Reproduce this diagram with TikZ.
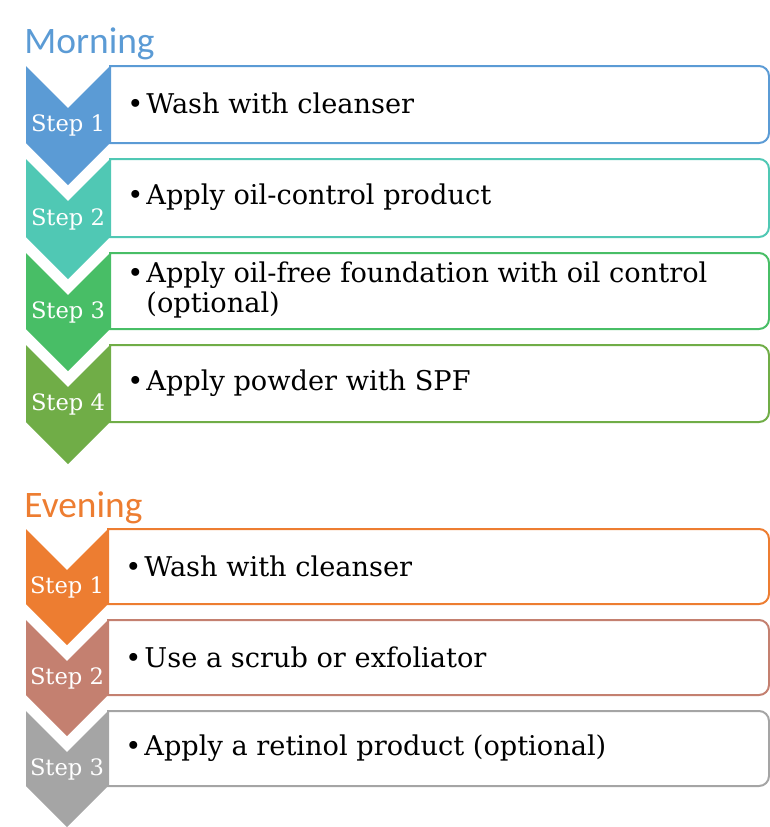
\documentclass[tikz,border=0pt]{standalone}
\usepackage{fontspec}
\setmainfont{DejaVu Serif}
\newfontfamily\headfont{Carlito}
\definecolor{mornblue}{RGB}{91,155,213}
\definecolor{mornteal}{RGB}{80,200,180}
\definecolor{morngreen}{RGB}{72,190,102}
\definecolor{mornolive}{RGB}{112,173,71}
\definecolor{evenorange}{RGB}{237,125,49}
\definecolor{evenrose}{RGB}{196,128,112}
\definecolor{evengray}{RGB}{165,165,165}
\begin{document}
\begin{tikzpicture}[x=0.5pt, y=-0.5pt,
    stepbox/.style={draw=#1, line width=1pt},
    steplabel/.style={text=white, inner sep=0pt, font=\fontsize{11.3}{13}\selectfont},
    itemtext/.style={anchor=west, align=left, inner sep=0pt, font=\fontsize{13.6}{15}\selectfont},
    heading/.style={anchor=base west, inner sep=0pt, font=\headfont\fontsize{18.7}{20}\selectfont}]

    \useasboundingbox (0,0) rectangle (770,827);

    % --- Morning (Top) ---
    \node[heading, text=mornblue] (morning) at (24,53) {Morning};

    % Step 1
    \draw[stepbox=mornblue] (110,66) [rounded corners=5pt] -- (769,66) -- (769,143) [sharp corners] -- (110,143) -- cycle;
    \fill[mornblue] (26,66) -- (68,108) -- (110,66) -- (110,143) -- (68,185) -- (26,143) -- cycle;
    \node[steplabel] (mlab1) at (68,125.5) {Step 1};
    \node[itemtext] (mtext1) at (146,103) {\llap{\textbullet\hspace{1.5pt}}Wash with cleanser};

    % Step 2
    \draw[stepbox=mornteal] (110,159) [rounded corners=5pt] -- (769,159) -- (769,237) [sharp corners] -- (110,237) -- cycle;
    \fill[mornteal] (26,159) -- (68,201) -- (110,159) -- (110,237) -- (68,279) -- (26,237) -- cycle;
    \node[steplabel] (mlab2) at (68,219) {Step 2};
    \node[itemtext] (mtext2) at (146,197) {\llap{\textbullet\hspace{1.5pt}}Apply oil-control product};

    % Step 3 (two lines)
    \draw[stepbox=morngreen] (110,253) [rounded corners=5pt] -- (769,253) -- (769,329) [sharp corners] -- (110,329) -- cycle;
    \fill[morngreen] (26,253) -- (68,295) -- (110,253) -- (110,329) -- (68,371) -- (26,329) -- cycle;
    \node[steplabel] (mlab3) at (68,312) {Step 3};
    \node[itemtext] (mtext3) at (146,290) {\llap{\textbullet\hspace{1.5pt}}Apply oil-free foundation with oil control\\(optional)};

    % Step 4
    \draw[stepbox=mornolive] (110,345) [rounded corners=5pt] -- (769,345) -- (769,422) [sharp corners] -- (110,422) -- cycle;
    \fill[mornolive] (26,345) -- (68,387) -- (110,345) -- (110,422) -- (68,464) -- (26,422) -- cycle;
    \node[steplabel] (mlab4) at (68,404.5) {Step 4};
    \node[itemtext] (mtext4) at (146,383) {\llap{\textbullet\hspace{1.5pt}}Apply powder with SPF};

    % --- Evening (Bottom) ---
    \node[heading, text=evenorange] (evening) at (24,517) {Evening};

    % Step 1
    \draw[stepbox=evenorange] (108,529) [rounded corners=5pt] -- (769,529) -- (769,604) [sharp corners] -- (108,604) -- cycle;
    \fill[evenorange] (26,529) -- (67,570) -- (108,529) -- (108,604) -- (67,645) -- (26,604) -- cycle;
    \node[steplabel] (elab1) at (67,587) {Step 1};
    \node[itemtext] (etext1) at (144,566) {\llap{\textbullet\hspace{1.5pt}}Wash with cleanser};

    % Step 2
    \draw[stepbox=evenrose] (108,620) [rounded corners=5pt] -- (769,620) -- (769,695) [sharp corners] -- (108,695) -- cycle;
    \fill[evenrose] (26,620) -- (67,661) -- (108,620) -- (108,695) -- (67,736) -- (26,695) -- cycle;
    \node[steplabel] (elab2) at (67,678) {Step 2};
    \node[itemtext] (etext2) at (144,657) {\llap{\textbullet\hspace{1.5pt}}Use a scrub or exfoliator};

    % Step 3
    \draw[stepbox=evengray] (108,711) [rounded corners=5pt] -- (769,711) -- (769,786) [sharp corners] -- (108,786) -- cycle;
    \fill[evengray] (26,711) -- (67,752) -- (108,711) -- (108,786) -- (67,827) -- (26,786) -- cycle;
    \node[steplabel] (elab3) at (67,769) {Step 3};
    \node[itemtext] (etext3) at (144,748) {\llap{\textbullet\hspace{1.5pt}}Apply a retinol product (optional)};

\end{tikzpicture}
\end{document}
